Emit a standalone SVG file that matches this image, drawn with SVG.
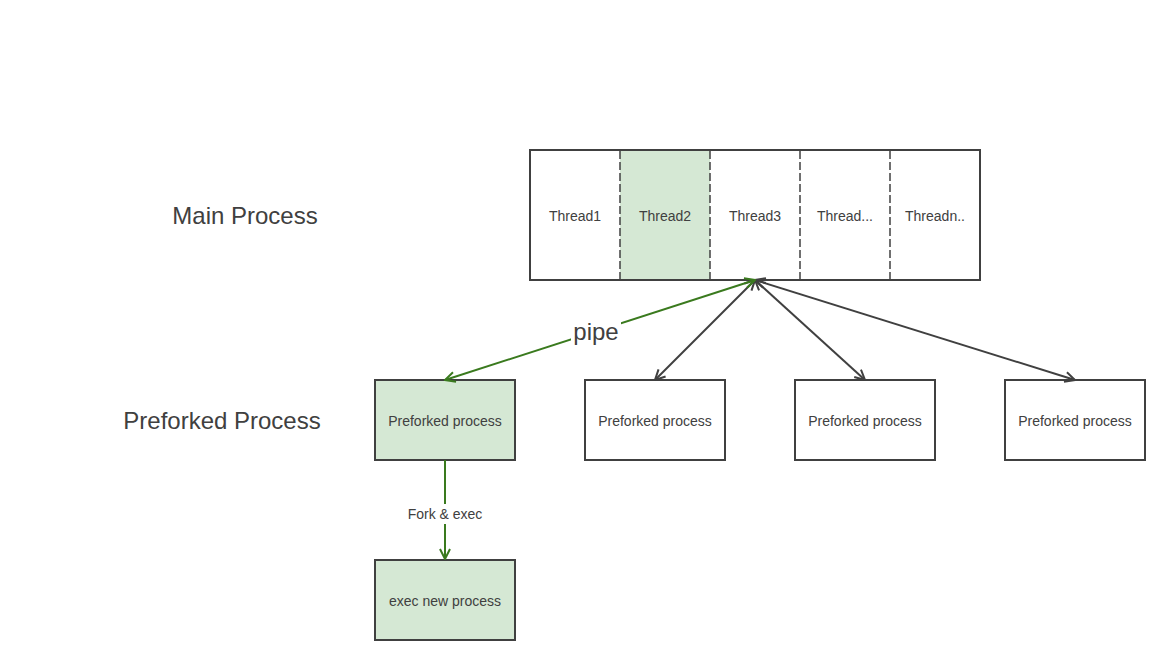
<svg xmlns="http://www.w3.org/2000/svg" width="1165" height="660" viewBox="0 0 1165 660">
<style>
text{font-family:"Liberation Sans",Arial,sans-serif;fill:#404040;text-anchor:middle;dominant-baseline:central}
.box{fill:#fff;stroke:#404040;stroke-width:2}
.g{fill:#d5e8d4}
.sm{font-size:14px}
.big{font-size:24px}
.dash{stroke:#404040;stroke-width:1.5;stroke-dasharray:8 3;fill:none}
.c{fill:none;stroke:#404040;stroke-width:2}
.cg{fill:none;stroke:#3a7a1e;stroke-width:2}
</style>
<defs>
<marker id="a" viewBox="0 0 12 12" refX="11" refY="6" markerWidth="12" markerHeight="12" markerUnits="userSpaceOnUse" orient="auto-start-reverse"><path d="M1,1 L11,6 L1,11" fill="none" stroke="#404040" stroke-width="2"/></marker>
<marker id="ag" viewBox="0 0 12 12" refX="11" refY="6" markerWidth="12" markerHeight="12" markerUnits="userSpaceOnUse" orient="auto-start-reverse"><path d="M1,1 L11,6 L1,11" fill="none" stroke="#3a7a1e" stroke-width="2"/></marker>
</defs>
<rect width="1165" height="660" fill="#fff"/>
<text x="245" y="215" class="big">Main Process</text>
<text x="222" y="420" class="big">Preforked Process</text>
<g id="main">
<rect x="530" y="150" width="450" height="130" class="box"/>
<rect x="620" y="151" width="90" height="128" class="g"/>
<line x1="620" y1="151" x2="620" y2="279" class="dash"/>
<line x1="710" y1="151" x2="710" y2="279" class="dash"/>
<line x1="800" y1="151" x2="800" y2="279" class="dash"/>
<line x1="890" y1="151" x2="890" y2="279" class="dash"/>
<text x="575" y="216" class="sm">Thread1</text>
<text x="665" y="216" class="sm">Thread2</text>
<text x="755" y="216" class="sm">Thread3</text>
<text x="845" y="216" class="sm">Thread...</text>
<text x="935" y="216" class="sm">Threadn..</text>
</g>
<g id="p1"><rect x="375" y="380" width="140" height="80" class="box g"/><text x="445" y="421" class="sm">Preforked process</text></g>
<g id="p2"><rect x="585" y="380" width="140" height="80" class="box"/><text x="655" y="421" class="sm">Preforked process</text></g>
<g id="p3"><rect x="795" y="380" width="140" height="80" class="box"/><text x="865" y="421" class="sm">Preforked process</text></g>
<g id="p4"><rect x="1005" y="380" width="140" height="80" class="box"/><text x="1075" y="421" class="sm">Preforked process</text></g>
<g id="e1"><rect x="375" y="560" width="140" height="80" class="box g"/><text x="445" y="601" class="sm">exec new process</text></g>
<g id="connectors">
<path d="M755,280 L655,380" class="c" marker-start="url(#a)" marker-end="url(#a)"/>
<path d="M755,280 L865,380" class="c" marker-start="url(#a)" marker-end="url(#a)"/>
<path d="M755,280 L1075,380" class="c" marker-start="url(#a)" marker-end="url(#a)"/>
<path d="M755,280 L445,380" class="cg" marker-start="url(#ag)" marker-end="url(#ag)"/>
<rect x="571" y="317" width="50" height="28" fill="#fff"/>
<text x="596" y="331" class="big">pipe</text>
<path d="M445,460 L445,559" class="cg" marker-end="url(#ag)"/>
<rect x="403" y="504" width="84" height="20" fill="#fff"/>
<text x="445" y="514" class="sm">Fork &amp; exec</text>
</g>
</svg>
